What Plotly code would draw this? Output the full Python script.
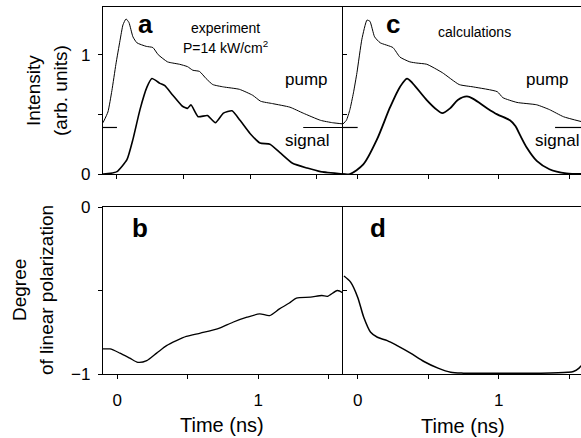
import plotly.graph_objects as go

W, H = 581, 438
FONT = "Liberation Sans, Arial, sans-serif"

# ---------------- data ----------------
# (a) experiment: pump pulse (offset by the 0.39 baseline) and signal
pump_exp_t = [-0.105, -0.068, -0.038, -0.008, 0.023, 0.045, 0.068, 0.09, 0.12, 0.15,
              0.22, 0.27, 0.31, 0.38, 0.42, 0.47, 0.53, 0.57, 0.62, 0.67, 0.72, 0.80,
              0.92, 1.02, 1.08, 1.17, 1.30, 1.40, 1.53, 1.62, 1.70]
pump_exp = [0.43, 0.52, 0.70, 0.92, 1.12, 1.25, 1.30, 1.27, 1.15, 1.10,
            1.07, 1.06, 1.00, 0.94, 0.93, 0.92, 0.90, 0.87, 0.86, 0.80, 0.75, 0.73,
            0.71, 0.66, 0.61, 0.59, 0.56, 0.51, 0.45, 0.43, 0.42]
signal_exp_t = [-0.105, -0.05, 0.0, 0.075, 0.12, 0.173, 0.226, 0.263, 0.323, 0.36,
                0.42, 0.49, 0.53, 0.556, 0.61, 0.68, 0.74, 0.80, 0.865, 0.925,
                1.0, 1.075, 1.15, 1.225, 1.32, 1.43, 1.53, 1.70]
signal_exp = [0.0, 0.005, 0.02, 0.12, 0.29, 0.54, 0.73, 0.80, 0.76, 0.74,
              0.66, 0.57, 0.55, 0.58, 0.48, 0.49, 0.43, 0.51, 0.53, 0.45,
              0.34, 0.26, 0.25, 0.18, 0.09, 0.05, 0.02, 0.0]

# (c) calculations
pump_calc_t = [-0.104, -0.08, -0.055, -0.03, -0.005, 0.03, 0.066, 0.087, 0.12, 0.16,
               0.25, 0.30, 0.37, 0.42, 0.49, 0.60, 0.72, 0.82, 0.99, 1.03, 1.13,
               1.27, 1.36, 1.46, 1.584]
pump_calc = [0.42, 0.45, 0.54, 0.68, 0.85, 1.13, 1.29, 1.28, 1.15, 1.10,
             1.06, 0.98, 0.94, 0.93, 0.92, 0.85, 0.75, 0.73, 0.69, 0.64, 0.60,
             0.58, 0.54, 0.48, 0.44]
signal_calc_t = [-0.104, -0.055, 0.04, 0.137, 0.23, 0.30, 0.35, 0.39, 0.49, 0.56,
                 0.60, 0.655, 0.71, 0.775, 0.82, 0.92, 0.99, 1.08, 1.12, 1.15,
                 1.20, 1.27, 1.36, 1.48, 1.584]
signal_calc = [0.0, 0.0, 0.08, 0.29, 0.56, 0.73, 0.80, 0.76, 0.62, 0.54,
               0.51, 0.55, 0.62, 0.65, 0.63, 0.55, 0.50, 0.45, 0.40, 0.33,
               0.22, 0.11, 0.04, 0.005, 0.0]

# pump zero-level markers
base_level = 0.39
base_exp_t = [[-0.105, 0.0], [1.40, 1.70]]
base_calc_t = [[-0.104, 0.0], [1.40, 1.584]]

# (b) measured degree of linear polarization
dlp_exp_t = [-0.10, -0.05, 0.02, 0.09, 0.147, 0.21, 0.28, 0.35, 0.42, 0.49,
             0.59, 0.71, 0.82, 0.92, 1.01, 1.08, 1.15, 1.22, 1.27, 1.37,
             1.45, 1.49, 1.56, 1.60]
dlp_exp = [-0.85, -0.85, -0.875, -0.905, -0.93, -0.92, -0.875, -0.83, -0.80, -0.775,
           -0.755, -0.73, -0.69, -0.66, -0.64, -0.65, -0.61, -0.575, -0.545, -0.54,
           -0.53, -0.535, -0.50, -0.515]

# (d) calculated degree of linear polarization
dlp_calc_t = [-0.097, -0.05, 0.0, 0.043, 0.092, 0.14, 0.21, 0.28, 0.375, 0.47,
              0.57, 0.66, 0.75, 1.0, 1.3, 1.49, 1.53, 1.57, 1.584]
dlp_calc = [-0.413, -0.45, -0.54, -0.66, -0.75, -0.78, -0.80, -0.83, -0.875, -0.925,
            -0.965, -0.99, -0.995, -0.995, -0.995, -0.99, -0.985, -0.965, -0.95]

# tick positions (major ticks are labelled, minor ones are bare marks)
time_major = [0, 1]
time_minor = [0.5, 1.5]
int_major = [0, 1]
int_minor = [0.5]
dlp_major = [-1, 0]
dlp_minor = [-0.5]

# ---------------- figure ----------------
fig = go.Figure()


def line(x, y, xa, ya, width, smooth=0.6):
    fig.add_trace(go.Scatter(
        x=x, y=y, xaxis=xa, yaxis=ya, mode="lines",
        line=dict(color="black", width=width, shape="spline", smoothing=smooth),
        showlegend=False, hoverinfo="skip"))


line(pump_exp_t, pump_exp, "x", "y", 1.0, 0.5)
line(signal_exp_t, signal_exp, "x", "y", 1.6, 0.5)
for seg in base_exp_t:
    line(seg, [base_level, base_level], "x", "y", 1.2)

line(pump_calc_t, pump_calc, "x2", "y2", 1.0, 0.5)
line(signal_calc_t, signal_calc, "x2", "y2", 1.8, 0.8)
for seg in base_calc_t:
    line(seg, [base_level, base_level], "x2", "y2", 1.2)

line(dlp_exp_t, dlp_exp, "x3", "y3", 1.3, 0.7)
line(dlp_calc_t, dlp_calc, "x4", "y4", 1.5, 0.8)

left_dom = [103 / W, 343 / W]
right_dom = [343 / W, 1.0]
top_dom = [1 - 174 / H, 1 - 7 / H]
bot_dom = [1 - 374 / H, 1 - 207 / H]

tickfont = dict(family=FONT, size=17, color="black")
common = dict(showgrid=False, zeroline=False, showline=True, linecolor="black",
              linewidth=1.2, ticks="outside", ticklen=4, tickwidth=1,
              tickcolor="black", tickfont=tickfont, automargin=False)


def minor(vals, side="outside"):
    return dict(tickvals=vals, ticks=side, ticklen=4, tickwidth=1,
                tickcolor="black", showgrid=False)


fig.update_layout(
    width=W, height=H,
    margin=dict(l=0, r=0, t=0, b=0, pad=0, autoexpand=False),
    paper_bgcolor="white", plot_bgcolor="white",
    font=dict(family=FONT, color="black"),
    xaxis=dict(domain=left_dom, range=[-0.105, 1.699], anchor="y",
               tickvals=time_major, minor=minor(time_minor),
               showticklabels=False, mirror=True, **common),
    yaxis=dict(domain=top_dom, range=[0, 1.4], anchor="x",
               tickvals=int_major, minor=minor(int_minor),
               ticklabelstandoff=4, **common),
    xaxis2=dict(domain=right_dom, range=[-0.104, 1.584], anchor="y2",
                tickvals=time_major, minor=minor(time_minor),
                showticklabels=False, mirror=True, **common),
    yaxis2=dict(domain=top_dom, range=[0, 1.4], anchor="x2",
                tickvals=[1], minor=minor(int_minor, "inside"),
                showticklabels=False, **{**common, "ticks": "inside"}),
    xaxis3=dict(domain=left_dom, range=[-0.1, 1.6], anchor="y3",
                tickvals=time_major, minor=minor(time_minor), mirror=True,
                ticklabelstandoff=6, **common),
    yaxis3=dict(domain=bot_dom, range=[-1, 0], anchor="x3",
                tickvals=dlp_major, ticktext=["\u22121", "0"],
                minor=minor(dlp_minor), ticklabelstandoff=4, **common),
    xaxis4=dict(domain=right_dom, range=[-0.104, 1.584], anchor="y4",
                tickvals=time_major, minor=minor(time_minor), mirror=True,
                ticklabelstandoff=6, **common),
    yaxis4=dict(domain=bot_dom, range=[-1, 0], anchor="x4",
                tickvals=dlp_minor, showticklabels=False,
                **{**common, "ticks": "inside"}),
)


def note(text, x, y, size, bold=False, angle=0):
    if bold:
        text = "<b>" + text + "</b>"
    fig.add_annotation(text=text, x=x / W, y=1 - y / H, xref="paper", yref="paper",
                       xanchor="center", yanchor="middle", showarrow=False,
                       textangle=angle,
                       font=dict(family=FONT, size=size, color="black"))


# panel letters
note("a", 145, 24, 26, bold=True)
note("b", 140, 228, 26, bold=True)
note("c", 393, 24, 26, bold=True)
note("d", 378, 228, 26, bold=True)

# panel texts
note("experiment", 225, 28, 14)
note("P=14 kW/cm<sup>2</sup>", 225, 47, 14)
note("calculations", 474, 32, 14)
note("pump", 306, 79, 17)
note("signal", 307, 141, 17)
note("pump", 547, 79, 17)
note("signal", 557, 141, 17)

# axis titles
note("Intensity", 33, 91, 19, angle=-90)
note("(arb. units)", 60, 91, 19, angle=-90)
note("Degree", 19, 290, 19, angle=-90)
note("of linear polarization", 46, 290, 19, angle=-90)
note("Time (ns)", 222, 425, 20)
note("Time (ns)", 463, 426, 20)

fig.write_html("out.html")
